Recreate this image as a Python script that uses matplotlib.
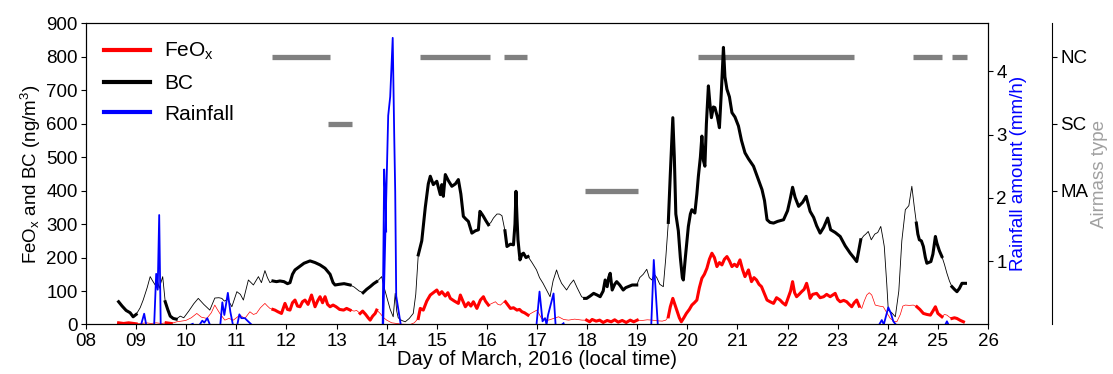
import numpy as np
import matplotlib
matplotlib.use("Agg")
import matplotlib.pyplot as plt
from matplotlib.lines import Line2D

plt.rcParams['font.family'] = ['Liberation Sans', 'DejaVu Sans']
plt.rcParams['mathtext.fontset'] = 'custom'
plt.rcParams['mathtext.rm'] = 'Liberation Sans'
plt.rcParams['mathtext.it'] = 'Liberation Sans'

# BC 浓度 (ng/m3)，时间为三月的日
bc_t = [8.65, 8.72, 8.80, 8.88, 8.94, 9.00, 9.08, 9.14, 9.22, 9.28, 9.33, 9.38, 9.41, 9.46, 9.53,
        9.58, 9.63, 9.68, 9.74, 9.80, 9.88, 9.95, 10.05, 10.15, 10.24, 10.35, 10.47, 10.57, 10.65,
        10.71, 10.76, 10.83, 10.91, 11.01, 11.08, 11.14, 11.24, 11.34, 11.44, 11.50, 11.57, 11.62,
        11.67, 11.73, 11.80, 11.87, 11.95, 12.02, 12.07, 12.12, 12.17, 12.25, 12.35, 12.47, 12.57,
        12.67, 12.77, 12.87, 12.93, 12.97, 13.05, 13.15, 13.27, 13.35, 13.45, 13.53, 13.60, 13.67,
        13.74, 13.80, 13.85, 13.90, 13.95, 14.00, 14.07, 14.13, 14.17, 14.20, 14.23, 14.30, 14.37,
        14.45, 14.53, 14.58, 14.63, 14.70, 14.77, 14.83, 14.87, 14.93, 15.00, 15.07, 15.10, 15.13,
        15.17, 15.23, 15.30, 15.37, 15.43, 15.48, 15.53, 15.58, 15.63, 15.70, 15.77, 15.83, 15.86,
        15.90, 15.93, 15.98, 16.03, 16.08, 16.13, 16.20, 16.25, 16.30, 16.36, 16.40, 16.47, 16.53,
        16.56, 16.58, 16.60, 16.62, 16.66, 16.70, 16.73, 16.78, 16.82, 16.90, 16.99, 17.05, 17.12,
        17.20, 17.26, 17.32, 17.39, 17.44, 17.49, 17.59, 17.66, 17.73, 17.80, 17.89, 17.95, 17.99,
        18.06, 18.13, 18.20, 18.26, 18.32, 18.36, 18.40, 18.43, 18.46, 18.50, 18.55, 18.59, 18.65,
        18.72, 18.77, 18.82, 18.90, 18.99, 19.05, 19.12, 19.19, 19.24, 19.29, 19.34, 19.39, 19.45,
        19.52, 19.57, 19.62, 19.66, 19.71, 19.74, 19.77, 19.82, 19.86, 19.90, 19.92, 19.96, 20.02,
        20.06, 20.09, 20.15, 20.19, 20.22, 20.26, 20.29, 20.32, 20.35, 20.38, 20.42, 20.45, 20.48,
        20.52, 20.55, 20.60, 20.64, 20.68, 20.72, 20.75, 20.79, 20.84, 20.89, 20.95, 21.02, 21.08,
        21.15, 21.22, 21.32, 21.40, 21.49, 21.54, 21.59, 21.65, 21.72, 21.80, 21.92, 22.00, 22.05,
        22.10, 22.15, 22.22, 22.30, 22.37, 22.45, 22.52, 22.58, 22.65, 22.72, 22.80, 22.86, 22.95,
        23.05, 23.15, 23.25, 23.32, 23.38, 23.42, 23.46, 23.52, 23.56, 23.61, 23.67, 23.74, 23.80,
        23.86, 23.90, 23.93, 23.98, 24.01, 24.08, 24.15, 24.22, 24.28, 24.35, 24.42, 24.48, 24.53,
        24.57, 24.60, 24.63, 24.67, 24.71, 24.75, 24.78, 24.86, 24.90, 24.95, 24.98, 25.03, 25.08,
        25.13, 25.18, 25.23, 25.28, 25.33, 25.38, 25.43, 25.48, 25.55]
bc_v = [68, 55, 42, 35, 23, 30, 50, 73, 110, 143, 130, 118, 140, 108, 143,
        68, 45, 25, 18, 16, 25, 20, 40, 62, 78, 60, 43, 79, 80,
        78, 70, 75, 53, 98, 90, 73, 133, 118, 143, 125, 161, 140,
        125, 130, 128, 130, 128, 122, 125, 150, 163, 172, 183, 190, 185,
        178, 168, 150, 125, 118, 120, 122, 118, 112, 100, 95, 105, 113,
        122, 128, 135, 143, 110, 83, 45, 23, 93, 40, 20, 12, 8,
        18, 33, 90, 208, 250, 350, 420, 443, 418, 428, 388, 418, 383,
        448, 430, 413, 420, 433, 390, 323, 315, 308, 273, 280, 283, 338,
        330, 323, 310, 298, 305, 318, 330, 330, 325, 280, 233, 240, 238,
        300, 398, 320, 253, 193, 210, 213, 200, 203, 185, 163, 140, 123,
        100, 83, 130, 163, 140, 123, 103, 120, 133, 110, 83, 78, 78,
        85, 93, 88, 83, 100, 133, 113, 140, 153, 103, 120, 128, 118,
        103, 110, 113, 118, 118, 140, 150, 165, 140, 133, 150, 140, 120,
        113, 200, 305, 450, 618, 500, 330, 280, 200, 140, 133, 200, 293,
        330, 343, 333, 390, 443, 500, 563, 490, 473, 600, 713, 660, 618,
        650, 648, 620, 588, 700, 828, 740, 703, 680, 633, 620, 593, 550,
        513, 495, 473, 440, 403, 370, 313, 305, 303, 308, 313, 340, 373,
        410, 380, 353, 365, 383, 338, 320, 295, 273, 290, 318, 283, 275,
        263, 235, 213, 200, 188, 220, 253, 265, 270, 278, 253, 270, 275,
        293, 260, 233, 120, 43, 35, 23, 100, 250, 343, 355, 413, 350,
        303, 270, 253, 250, 233, 200, 183, 188, 210, 263, 243, 220, 203,
        180, 153, 130, 113, 105, 98, 108, 123, 123]

# FeOx 浓度 (ng/m3)
fe_t = [8.65, 8.75, 8.85, 8.95, 9.00, 9.10, 9.20, 9.30, 9.40, 9.50, 9.60, 9.70, 9.81, 9.90, 9.99,
        10.10, 10.21, 10.30, 10.41, 10.50, 10.57, 10.62, 10.67, 10.77, 10.85, 10.94, 11.00, 11.07,
        11.17, 11.27, 11.34, 11.40, 11.48, 11.57, 11.62, 11.67, 11.73, 11.77, 11.83, 11.90, 11.97,
        12.02, 12.07, 12.12, 12.17, 12.22, 12.27, 12.32, 12.37, 12.43, 12.50, 12.57, 12.62, 12.67,
        12.72, 12.77, 12.82, 12.87, 12.93, 12.99, 13.06, 13.14, 13.20, 13.27, 13.35, 13.40, 13.47,
        13.52, 13.58, 13.63, 13.67, 13.72, 13.77, 13.80, 13.87, 13.94, 14.00, 14.10, 14.20, 14.30,
        14.47, 14.55, 14.63, 14.67, 14.73, 14.80, 14.87, 14.93, 15.00, 15.05, 15.10, 15.17, 15.22,
        15.27, 15.35, 15.43, 15.47, 15.52, 15.57, 15.63, 15.68, 15.73, 15.80, 15.87, 15.93, 15.97,
        16.03, 16.10, 16.17, 16.22, 16.27, 16.32, 16.37, 16.42, 16.47, 16.53, 16.60, 16.65, 16.70,
        16.75, 16.82, 16.90, 17.00, 17.09, 17.16, 17.23, 17.33, 17.43, 17.53, 17.63, 17.75, 17.90,
        17.99, 18.05, 18.10, 18.18, 18.25, 18.32, 18.40, 18.48, 18.55, 18.62, 18.70, 18.78, 18.86,
        18.93, 19.00, 19.10, 19.20, 19.30, 19.40, 19.50, 19.57, 19.62, 19.66, 19.71, 19.75, 19.79,
        19.84, 19.88, 19.93, 19.98, 20.04, 20.09, 20.14, 20.19, 20.24, 20.29, 20.34, 20.39, 20.44,
        20.49, 20.54, 20.59, 20.64, 20.69, 20.74, 20.79, 20.84, 20.89, 20.94, 20.99, 21.05, 21.10,
        21.15, 21.22, 21.28, 21.33, 21.38, 21.43, 21.48, 21.53, 21.59, 21.65, 21.72, 21.78, 21.85,
        21.90, 21.96, 22.02, 22.06, 22.10, 22.14, 22.18, 22.23, 22.28, 22.33, 22.38, 22.42, 22.45,
        22.50, 22.58, 22.65, 22.72, 22.78, 22.85, 22.90, 22.95, 23.00, 23.05, 23.12, 23.18, 23.23,
        23.28, 23.33, 23.38, 23.43, 23.48, 23.53, 23.58, 23.63, 23.68, 23.75, 23.83, 23.91, 23.98,
        24.05, 24.12, 24.18, 24.25, 24.30, 24.35, 24.43, 24.51, 24.58, 24.64, 24.71, 24.78, 24.85,
        24.90, 24.95, 25.00, 25.08, 25.13, 25.18, 25.23, 25.28, 25.33, 25.38, 25.45, 25.51]
fe_v = [5, 3, 5, 3, 2, 3, 5, 3, 5, 3, 5, 3, 8, 10, 12,
        20, 33, 22, 18, 35, 58, 45, 33, 13, 18, 13, 20, 28,
        18, 38, 30, 33, 50, 63, 55, 48, 45, 43, 38, 33, 63,
        45, 43, 65, 73, 55, 53, 68, 73, 60, 88, 53, 70, 83,
        65, 83, 60, 53, 58, 53, 45, 43, 48, 43, 40, 42, 33,
        40, 30, 20, 13, 25, 33, 43, 33, 20, 13, 5, 3, 1,
        0, 5, 18, 48, 43, 70, 88, 95, 103, 90, 98, 85, 95,
        78, 70, 63, 88, 70, 53, 65, 55, 68, 48, 73, 83, 70,
        58, 63, 68, 60, 58, 65, 68, 58, 48, 50, 43, 45, 38,
        35, 28, 35, 43, 18, 15, 13, 18, 23, 15, 13, 16, 13,
        13, 8, 15, 10, 13, 6, 12, 8, 14, 7, 12, 6, 13,
        8, 13, 12, 14, 13, 11, 10, 13, 23, 53, 78, 60, 43,
        20, 8, 20, 33, 45, 58, 65, 73, 110, 138, 150, 168, 195,
        213, 200, 173, 185, 178, 195, 203, 190, 173, 180, 173, 193, 165,
        143, 163, 128, 140, 133, 120, 113, 95, 73, 68, 63, 80, 73,
        65, 58, 83, 100, 128, 95, 83, 90, 98, 105, 123, 100, 78,
        90, 93, 80, 83, 90, 83, 88, 93, 75, 68, 72, 68, 60,
        53, 65, 73, 55, 48, 70, 88, 95, 88, 58, 55, 53, 35,
        18, 10, 8, 30, 55, 58, 57, 58, 53, 45, 33, 30, 28,
        40, 53, 33, 23, 30, 28, 22, 18, 20, 18, 12, 8]

# 粗线时段（起止日）
thick_start = [8.64, 9.58, 11.72, 13.47, 14.63, 16.36, 17.95, 19.62, 24.57, 25.28]
thick_end = [9.00, 9.80, 13.28, 13.80, 16.04, 16.83, 19.00, 23.46, 25.08, 25.56]

# 降雨 (mm/h)，nan 分段
rain_t = [9.10, 9.16, 9.20, np.nan,
          9.36, 9.40, 9.43, 9.46, 9.49, np.nan,
          10.10, 10.13, np.nan,
          10.27, 10.32, 10.36, 10.42, 10.47, np.nan,
          10.68, 10.72, 10.76, 10.83, 10.88, 10.93, np.nan,
          11.02, 11.06, 11.10, 11.17, 11.22, 11.30, np.nan,
          13.92, 13.95, 13.975, 13.99, np.nan,
          13.93, 14.03, 14.07, 14.12, 14.15, 14.17, 14.19, 14.22, 14.25, 14.28, np.nan,
          16.99, 17.05, 17.11, 17.16, 17.19, 17.22, 17.33, 17.37, np.nan,
          17.50, 17.53, np.nan,
          19.28, 19.33, 19.37, 19.41, np.nan,
          23.83, 23.88, 23.92, 24.01, 24.06, 24.11, 24.16, np.nan,
          25.15, 25.18, 25.21]
rain_v = [0, 0.17, 0, np.nan,
          0, 0.8, 0.55, 1.73, 0, np.nan,
          0, 0.01, np.nan,
          0, 0.06, 0.03, 0.1, 0, np.nan,
          0, 0.35, 0.15, 0.5, 0.2, 0, np.nan,
          0, 0.16, 0.1, 0.1, 0.06, 0, np.nan,
          0, 2.45, 1.95, 1.47, np.nan,
          0, 3.3, 3.6, 4.53, 3.0, 2.1, 0.45, 0.3, 0.15, 0, np.nan,
          0, 0.52, 0.05, 0.1, 0, 0.15, 0.49, 0, np.nan,
          0, 0.02, np.nan,
          0, 1.02, 0.5, 0, np.nan,
          0, 0.07, 0, 0.27, 0.18, 0.05, 0, np.nan,
          0, 0.05, 0]

# 气团类型时段
air_start = [11.71, 12.83, 14.67, 16.34, 17.96, 20.22, 24.51, 25.28]
air_end = [12.87, 13.30, 16.06, 16.80, 19.02, 23.33, 25.08, 25.58]
air_type = ['NC', 'SC', 'NC', 'NC', 'MA', 'NC', 'NC', 'NC']
AIR_LEVEL = {'MA': 1, 'SC': 2, 'NC': 3}


def thick_only(t, v):
    t = np.asarray(t)
    v = np.asarray(v, dtype=float)
    mask = np.zeros(len(t), dtype=bool)
    for a, b in zip(thick_start, thick_end):
        mask |= (t >= a - 1e-6) & (t <= b + 1e-6)
    return np.where(mask, v, np.nan)


fig = plt.figure(figsize=(11.13, 3.74), dpi=100)
ax1 = fig.add_axes([0.0773, 0.1324, 0.8104, 0.8053])
ax2 = ax1.twinx()
ax3 = ax1.twinx()
ax3.set_zorder(0)
ax1.set_zorder(1)
ax2.set_zorder(2)
ax1.patch.set_visible(False)
ax2.patch.set_visible(False)

fs = 13.5

# 气团
for a, b, k in zip(air_start, air_end, air_type):
    ax3.hlines(AIR_LEVEL[k], a, b, color='#808080', lw=3.8)
ax3.set_ylim(-1, 3.5)
ax3.set_yticks([1, 2, 3])
ax3.set_yticklabels(['MA', 'SC', 'NC'])
ax3.spines['right'].set_position(('axes', 1.071))
for s in ['left', 'top', 'bottom']:
    ax3.spines[s].set_visible(False)
ax3.set_ylabel('Airmass type', color='#a0a0a0', fontsize=fs, labelpad=2)

# 浓度
ax1.plot(fe_t, fe_v, color='red', lw=0.5)
ax1.plot(fe_t, thick_only(fe_t, fe_v), color='red', lw=2.2)
ax1.plot(bc_t, bc_v, color='black', lw=0.6)
ax1.plot(bc_t, thick_only(bc_t, bc_v), color='black', lw=2.2)
ax1.set_xlim(8, 26)
ax1.set_ylim(0, 900)
ax1.set_xticks(range(8, 27))
ax1.set_xticklabels([f"{d:02d}" for d in range(8, 27)])
ax1.set_yticks(range(0, 901, 100))
ax1.set_ylabel('FeO$_x$ and BC (ng/m$^3$)', fontsize=fs, labelpad=2)
ax1.set_xlabel('Day of March, 2016 (local time)', fontsize=14.5, labelpad=0)

# 降雨
ax2.plot(rain_t, rain_v, color='blue', lw=1.3)
ax2.set_ylim(0, 4.76)
ax2.set_yticks([1, 2, 3, 4])
ax2.set_ylabel('Rainfall amount (mm/h)', color='blue', fontsize=fs, labelpad=2)

for ax in (ax1, ax2, ax3):
    ax.tick_params(direction='out', length=3.5, labelsize=fs, pad=2.5)

handles = [Line2D([], [], color='red', lw=3),
           Line2D([], [], color='black', lw=3),
           Line2D([], [], color='blue', lw=3)]
ax1.legend(handles, ['FeO$_x$', 'BC', 'Rainfall'], loc='upper left', frameon=False,
           fontsize=15, handlelength=2.2, handletextpad=0.7, labelspacing=0.56,
           borderaxespad=0.45, bbox_to_anchor=(0.0, 1.0))

fig.savefig('out.png', dpi=100)
